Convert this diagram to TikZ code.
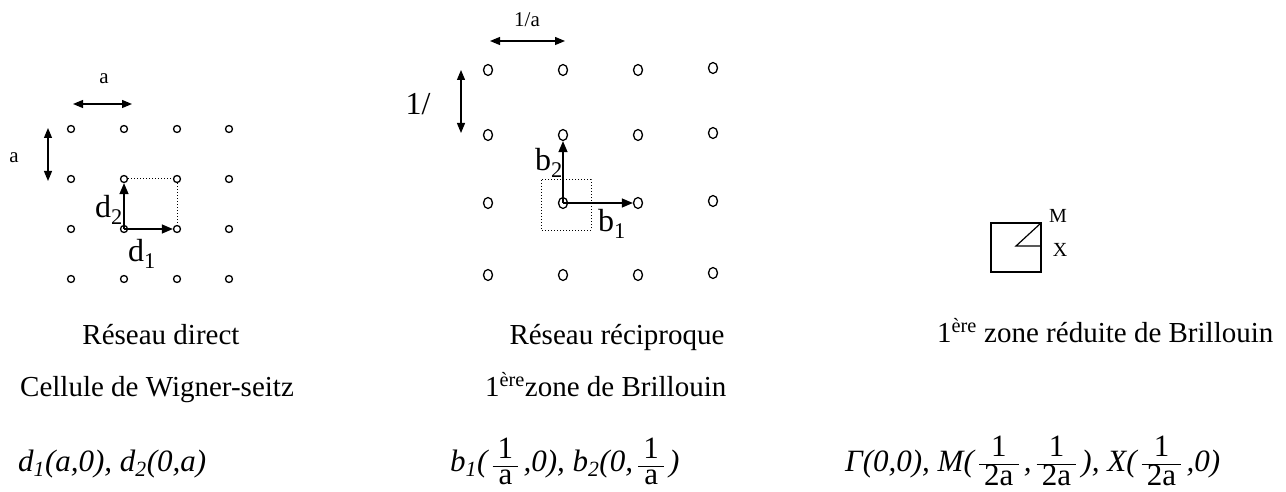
\documentclass[tikz,border=0pt]{standalone}
\usepackage{amsmath}
\usepackage{fontspec}
\setmainfont{Liberation Serif}
\usetikzlibrary{arrows.meta,shapes.geometric}
\newcommand\myfr[2]{\,$\vcenter{\hbox{\renewcommand\arraystretch{0.68}\setlength\arrayrulewidth{1pt}\begin{tabular}{@{\,}c@{\,}}\upshape #1\\\hline\upshape #2\end{tabular}}}$\,}
\begin{document}
\begin{tikzpicture}[x=1pt,y=-1pt,
  site/.style={circle,draw,line width=1.3pt,minimum size=7pt,inner sep=0pt},
  rsite/.style={ellipse,draw,line width=1.3pt,minimum width=9pt,minimum height=11pt,inner sep=0pt},
  vec/.style={line width=1.4pt,-{Triangle[length=11pt,width=9pt]}},
  dimarrow/.style={line width=1.2pt,{Triangle[length=10pt,width=8pt]}-{Triangle[length=10pt,width=8pt]}},
  cellbox/.style={line width=1pt,dotted},
  lbl/.style={inner sep=0pt,font=\fontsize{32}{36}\selectfont},
  slbl/.style={inner sep=0pt,font=\fontsize{21}{24}\selectfont},
  captxt/.style={inner sep=0pt,anchor=base,font=\fontsize{29}{34}\selectfont},
  frm/.style={inner sep=0pt,anchor=base west,font=\fontsize{31}{36}\selectfont\itshape}]
\useasboundingbox (0,0) rectangle (1286,492);
% left lattice
\foreach \x [count=\i] in {71,124,177,229}
  \foreach \y [count=\j] in {129,179,229,279}
    \node[site] (L\i\j) at (\x,\y) {};
\coordinate (ha1) at (73,104); \coordinate (ha2) at (132,104);
\draw[dimarrow] (ha1) -- (ha2);
\node[slbl] (la1) at (104,79) {a};
\coordinate (va1) at (48,128); \coordinate (va2) at (48,181);
\draw[dimarrow] (va1) -- (va2);
\node[slbl] (la2) at (14,158) {a};
\draw[cellbox] (L22.east) -- (L32.west);
\draw[cellbox] (L32.south) -- (L33.north);
\draw[vec] (L23.center) -- (L22.south);
\draw[vec] (L23.center) -- (L33.west);
\node[lbl] (d2) at (109,210) {d\textsubscript{2}};
\node[lbl] (d1) at (142,254) {d\textsubscript{1}};
% middle lattice
\foreach \x/\d [count=\i] in {488/0,563/0,638/0,713/-2}
  \foreach \y [count=\j] in {70,135,203,275}
    \node[rsite] (R\i\j) at (\x,\y+\d) {};
\coordinate (hb1) at (490,41); \coordinate (hb2) at (565,41);
\draw[dimarrow] (hb1) -- (hb2);
\node[slbl] (lb1) at (527,20) {1/a};
\coordinate (vb1) at (461,70); \coordinate (vb2) at (461,133);
\draw[dimarrow] (vb1) -- (vb2);
\node[lbl] (lb2) at (418,104) {1/};
\draw[cellbox] (541,180) rectangle (591,230);
\draw[vec] (R23.center) -- (R22.south);
\draw[vec] (R23.center) -- (R33.west);
\node[lbl] (b2) at (549,163) {b\textsubscript{2}};
\node[lbl] (b1) at (612,224) {b\textsubscript{1}};
% reduced zone
\draw[line width=1.2pt] (991,223) rectangle (1041,272);
\coordinate (Mp) at (1041,223); \coordinate (Gp) at (1016,246); \coordinate (Xp) at (1041,246);
\draw[line width=1.2pt] (Mp) -- (Gp) -- (Xp);
\node[inner sep=0pt,font=\fontsize{20}{22}\selectfont] (M) at (1058,216) {M};
\node[inner sep=0pt,font=\fontsize{20}{22}\selectfont] (X) at (1060,250) {X};
% captions
\node[captxt] (c1) at (161,344) {Réseau direct};
\node[captxt] (c2) at (157,396) {Cellule de Wigner-seitz};
\node[captxt] (c3) at (617,344) {Réseau réciproque};
\node[captxt,anchor=base west] (c4) at (485,396) {1\textsuperscript{ère}zone de Brillouin};
\node[captxt,anchor=base west] (c5) at (937,342) {1\textsuperscript{ère} zone réduite de Brillouin};
% formulas
\node[frm] (f1) at (18,471) {d\textsubscript{1}(a,0), d\textsubscript{2}(0,a)};
\node[frm] (f2) at (450,471) {b\textsubscript{1}(\myfr{1}{a},0), b\textsubscript{2}(0,\myfr{1}{a})};
\node[frm] (f3) at (845,471) {Γ(0,0), M(\myfr{1}{2a},\myfr{1}{2a}), X(\myfr{1}{2a},0)};
\end{tikzpicture}
\end{document}
